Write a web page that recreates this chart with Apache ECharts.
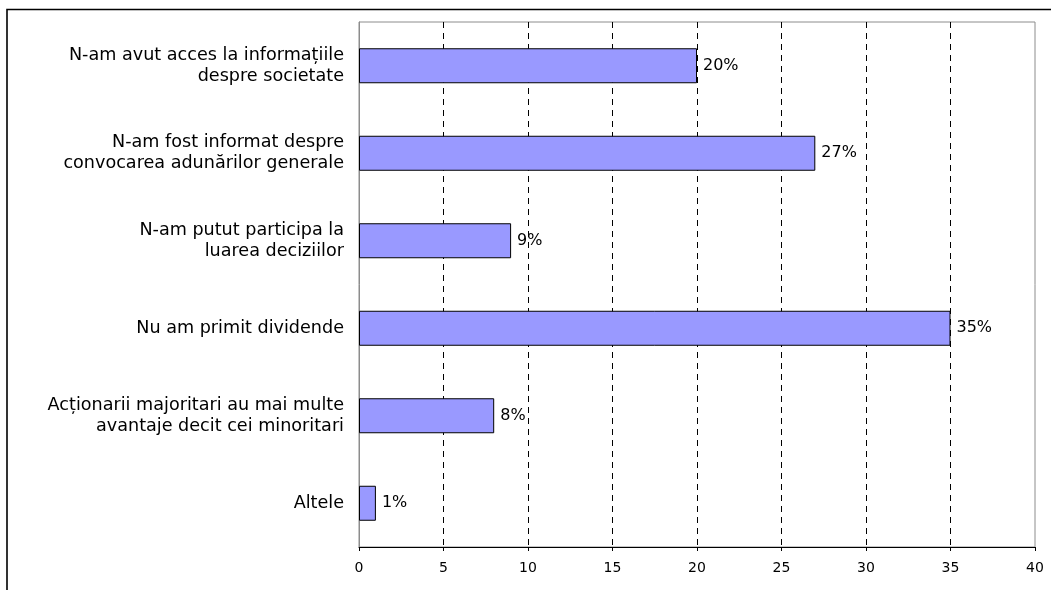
<!DOCTYPE html>
<html>
<head>
<meta charset="utf-8">
<script src="https://cdn.jsdelivr.net/npm/echarts@6/dist/echarts.min.js"></script>
<style>
  html, body { margin: 0; padding: 0; background: #fff; }
  #chart { width: 1051px; height: 590px; }
</style>
</head>
<body>
<div id="chart"></div>
<script>
// Survey answers (percent of respondents)
const categories = [
  'N-am avut acces la informațiile\ndespre societate',
  'N-am fost informat despre\nconvocarea adunărilor generale',
  'N-am putut participa la\nluarea deciziilor',
  'Nu am primit dividende',
  'Acționarii majoritari au mai multe\navantaje decit cei minoritari',
  'Altele'
];
const values = [20, 27, 9, 35, 8, 1];
const xTicks = { min: 0, max: 40, interval: 5 };

const FONT = '"DejaVu Sans", "Liberation Sans", sans-serif';
const chart = echarts.init(document.getElementById('chart'), null, { renderer: 'canvas' });

chart.setOption({
  backgroundColor: '#ffffff',
  animation: false,
  graphic: [{
    type: 'rect',
    shape: { x: 7, y: 9.5, width: 1200, height: 700 },
    style: { fill: 'none', stroke: '#000', lineWidth: 1.6 },
    silent: true
  }],
  grid: {
    left: 359, right: 16, top: 22, bottom: 43,
    show: true, borderColor: '#8c8c8c', borderWidth: 1, backgroundColor: 'transparent'
  },
  xAxis: {
    type: 'value',
    min: xTicks.min, max: xTicks.max, interval: xTicks.interval,
    axisLine: { show: true, lineStyle: { color: '#000', width: 1 } },
    axisTick: { show: true, length: 4, lineStyle: { color: '#000' } },
    axisLabel: { color: '#000', fontFamily: FONT, fontSize: 14, margin: 14 },
    splitLine: {
      show: true, showMinLine: false, showMaxLine: false,
      lineStyle: { color: '#000', type: [6, 5], width: 1 }
    }
  },
  yAxis: {
    type: 'category',
    data: categories,
    inverse: true,
    axisLine: { show: true, lineStyle: { color: '#8c8c8c' } },
    axisTick: { show: false },
    axisLabel: {
      color: '#000', fontFamily: FONT, fontSize: 17.6, lineHeight: 21,
      margin: 15, align: 'right'
    },
    splitLine: { show: false }
  },
  series: [{
    type: 'bar',
    data: values,
    barWidth: '40%',
    itemStyle: { color: '#9999ff', borderColor: '#000', borderWidth: 1 },
    label: {
      show: true, position: 'right', distance: 6,
      formatter: '{c}%', color: '#000', fontFamily: FONT, fontSize: 16
    }
  }]
});
</script>
</body>
</html>
